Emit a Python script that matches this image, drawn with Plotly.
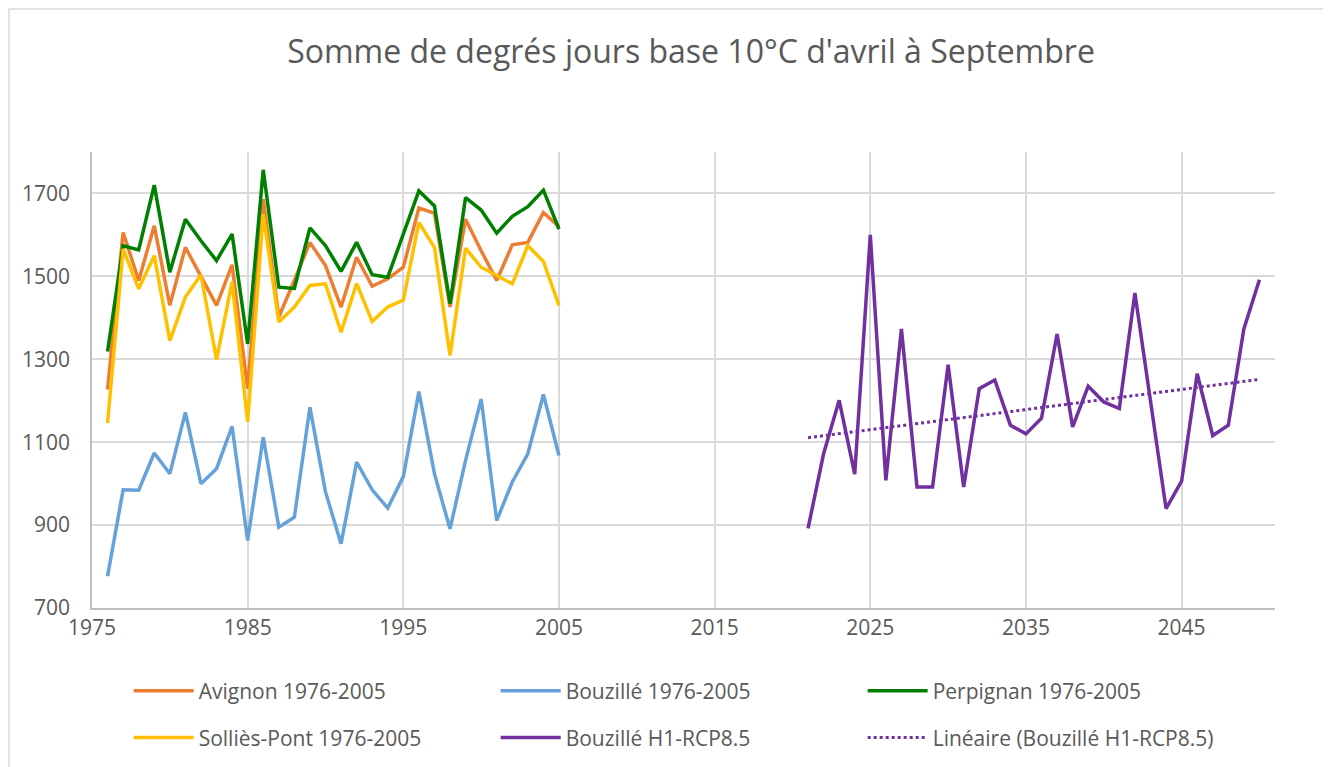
import numpy as np
import plotly.graph_objects as go

years_hist = list(range(1976, 2006))
avignon = [1227, 1606, 1490, 1622, 1430, 1570, 1500, 1430, 1528, 1229,
           1686, 1402, 1490, 1582, 1526, 1426, 1546, 1476, 1494, 1522,
           1665, 1652, 1426, 1638, 1562, 1490, 1576, 1582, 1654, 1620]
bouzille = [777, 985, 984, 1074, 1024, 1172, 1000, 1036, 1138, 863,
            1112, 895, 919, 1184, 980, 855, 1052, 985, 941, 1017,
            1222, 1024, 891, 1056, 1204, 911, 1004, 1072, 1215, 1068]
perpignan = [1319, 1574, 1564, 1720, 1510, 1638, 1586, 1538, 1602, 1337,
             1757, 1474, 1471, 1617, 1574, 1512, 1582, 1504, 1498, 1602,
             1706, 1670, 1434, 1690, 1660, 1604, 1645, 1668, 1708, 1614]
sollies = [1146, 1566, 1470, 1550, 1345, 1450, 1504, 1299, 1487, 1149,
           1650, 1390, 1426, 1478, 1482, 1365, 1483, 1391, 1426, 1443,
           1630, 1570, 1309, 1568, 1522, 1502, 1482, 1574, 1536, 1430]

years_fut = list(range(2021, 2051))
bouzille_h1 = [892, 1072, 1201, 1023, 1600, 1008, 1373, 992, 992, 1287,
               992, 1229, 1250, 1141, 1120, 1158, 1361, 1137, 1235, 1197,
               1181, 1460, 1200, 940, 1006, 1265, 1116, 1141, 1373, 1492]

names = ["Avignon 1976-2005", "Bouzillé 1976-2005", "Perpignan 1976-2005",
         "Solliès-Pont 1976-2005", "Bouzillé H1-RCP8.5", "Linéaire (Bouzillé H1-RCP8.5)"]
colors = ["#ED7D31", "#65A2DA", "#008000", "#FFC000", "#7030A0", "#7030A0"]

y_ticks = [700, 900, 1100, 1300, 1500, 1700]
x_ticks = [1975, 1985, 1995, 2005, 2015, 2025, 2035, 2045]

# linear trend of the projection series
coef = np.polyfit(years_fut, bouzille_h1, 1)
trend = list(np.polyval(coef, years_fut))

FONT = "Open Sans"
GREY = "#595959"
W, H = 1323, 759
L, R, T, B = 84, 56, 144, 159
PW, PH = W - L - R, H - T - B

fig = go.Figure()
series = [(years_hist, avignon), (years_hist, bouzille), (years_hist, perpignan),
          (years_hist, sollies), (years_fut, bouzille_h1)]
for i, (xs, ys) in enumerate(series):
    fig.add_trace(go.Scatter(x=xs, y=ys, mode="lines", name=names[i],
                             line=dict(color=colors[i], width=3.5),
                             legend="legend" if i < 3 else "legend2"))
fig.add_trace(go.Scatter(x=years_fut, y=trend, mode="lines", name=names[5],
                         line=dict(color=colors[5], width=3, dash="dot"),
                         legend="legend2"))

leg_common = dict(orientation="h", font=dict(family=FONT, size=21, color=GREY),
                  entrywidth=292, entrywidthmode="pixels", xanchor="left",
                  yanchor="middle", bgcolor="rgba(0,0,0,0)", itemwidth=60)

fig.update_layout(
    width=W, height=H,
    margin=dict(l=L, r=R, t=T, b=B, autoexpand=False),
    paper_bgcolor="white", plot_bgcolor="white",
    title=dict(text="Somme de degrés jours base 10°C d'avril à Septembre",
               font=dict(family=FONT, size=32, color=GREY),
               x=683 / W, xanchor="center", xref="container",
               y=1 - 44 / H, yanchor="middle", yref="container"),
    xaxis=dict(range=[1975, 2051], tickvals=x_ticks, showgrid=True,
               gridcolor="#D9D9D9", gridwidth=1.5, showline=True, linecolor="#BFBFBF",
               linewidth=1.5, zeroline=False, ticks="",
               tickfont=dict(family=FONT, size=21, color=GREY)),
    yaxis=dict(range=[700, 1800], tickvals=y_ticks, showgrid=True,
               gridcolor="#D9D9D9", gridwidth=1.5, showline=True, linecolor="#BFBFBF",
               linewidth=1.5, zeroline=False, ticks="", ticklabelstandoff=16,
               tickfont=dict(family=FONT, size=21, color=GREY)),
    legend=dict(x=0.031, y=-0.182, **leg_common),
    legend2=dict(x=0.031, y=-0.285, **leg_common),
    shapes=[dict(type="rect", xref="paper", yref="paper",
                 x0=(1 - L) / PW, x1=(W - 1 - L) / PW,
                 y0=(PH + B - 1) / -PH + 1 - 1, y1=(T - 1) / PH + 1,
                 line=dict(color="#D9D9D9", width=1.5), fillcolor="rgba(0,0,0,0)",
                 layer="below")],
)

fig.write_html("out.html")
